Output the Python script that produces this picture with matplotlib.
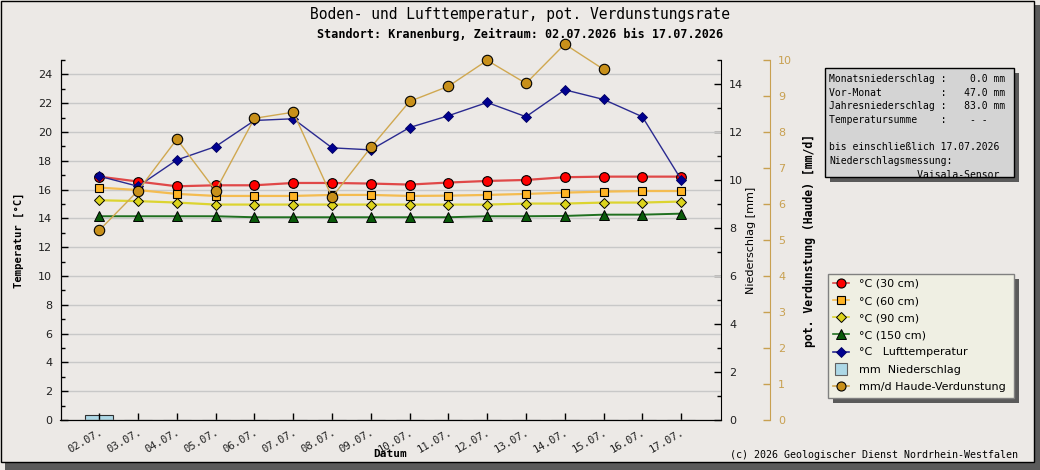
import numpy as np
import matplotlib
matplotlib.use("Agg")
import matplotlib.pyplot as plt
from matplotlib.patches import Rectangle
from matplotlib.lines import Line2D

# Daten
datum = ["02.07.", "03.07.", "04.07.", "05.07.", "06.07.", "07.07.", "08.07.", "09.07.",
         "10.07.", "11.07.", "12.07.", "13.07.", "14.07.", "15.07.", "16.07.", "17.07."]
t30 = [16.9, 16.56, 16.23, 16.3, 16.3, 16.46, 16.46, 16.42,
       16.35, 16.49, 16.6, 16.67, 16.86, 16.9, 16.9, 16.9]
t60 = [16.14, 15.97, 15.7, 15.56, 15.56, 15.56, 15.63, 15.63,
       15.56, 15.58, 15.63, 15.7, 15.79, 15.86, 15.9, 15.9]
t90 = [15.26, 15.2, 15.1, 14.96, 14.96, 14.96, 14.96, 14.96,
       14.96, 14.96, 14.96, 15.03, 15.03, 15.1, 15.1, 15.17]
t150 = [14.15, 14.15, 14.15, 14.15, 14.08, 14.08, 14.08, 14.08,
        14.08, 14.08, 14.15, 14.15, 14.17, 14.26, 14.26, 14.33]
luft = [16.93, 16.23, 18.06, 18.99, 20.8, 20.92, 18.9, 18.76,
        20.31, 21.13, 22.05, 21.06, 22.93, 22.26, 21.06, 16.7]
niederschlag = [0.2, 0, 0, 0, 0, 0, 0, 0, 0, 0, 0, 0, 0, 0, 0, 0]
haude = [5.27, 6.37, 7.8, 6.37, 8.38, 8.55, 6.19, 7.57,
         8.85, 9.27, 9.99, 9.35, 10.44, 9.74, np.nan, np.nan]

info_zeilen = ["Monatsniederschlag :    0.0 mm",
               "Vor-Monat          :   47.0 mm",
               "Jahresniederschlag :   83.0 mm",
               "Temperatursumme    :    - -",
               "",
               "bis einschließlich 17.07.2026",
               "Niederschlagsmessung:",
               "               Vaisala-Sensor"]
legend_labels = ["°C (30 cm)", "°C (60 cm)", "°C (90 cm)", "°C (150 cm)",
                 "°C   Lufttemperatur", "mm  Niederschlag", "mm/d Haude-Verdunstung"]

MONO = "DejaVu Sans Mono"
BG = "#ece9e6"
GOLD = "#c8a050"
W, H = 1040, 470

fig = plt.figure(figsize=(W / 100, H / 100), dpi=100, facecolor=BG)

def px(x0, y0, w, h):
    # Pixelkoordinaten (oben links) -> Figurenbruch
    return (x0 / W, 1 - (y0 + h) / H, w / W, h / H)

# Rahmen mit Schatten
fig.patches.append(Rectangle((1034 / W, 0), 6 / W, 1 - 5 / H, transform=fig.transFigure,
                             facecolor="#5a5a5a", edgecolor="none", zorder=0))
fig.patches.append(Rectangle((5 / W, 0), 1, 7 / H, transform=fig.transFigure,
                             facecolor="#5a5a5a", edgecolor="none", zorder=0))
fig.patches.append(Rectangle((0.5 / W, 8 / H), 1033 / W, 1 - 8.5 / H, transform=fig.transFigure,
                             facecolor="none", edgecolor="black", lw=1, zorder=1))

x = np.arange(len(datum))

ax = fig.add_axes(px(60.5, 60, 660.2, 360))
ax2 = ax.twinx()
ax3 = ax.twinx()
ax2.set_zorder(0)
ax.set_zorder(1)
ax3.set_zorder(2)
ax.patch.set_visible(False)
ax2.patch.set_facecolor("white")
ax3.patch.set_visible(False)

# Temperaturen
ax.plot(x, t30, color="#e04848", lw=1.6, marker="o", ms=7, mfc="#ff0000", mec="black", mew=0.8)
ax.plot(x, t60, color="#f4bc50", lw=1.6, marker="s", ms=6, mfc="#ffb424", mec="black", mew=0.8)
ax.plot(x, t90, color="#dcd430", lw=1.6, marker="D", ms=5.5, mfc="#dcd41c", mec="black", mew=0.7)
ax.plot(x, t150, color="#207020", lw=1.4, marker="^", ms=7, mfc="#0a5a0a", mec="black", mew=0.7)
ax.plot(x, luft, color="#2a2a90", lw=1.0, marker="D", ms=5.5, mfc="#000090", mec="#000060", mew=0.6)

ax.set_xlim(-1.0, 16.02)
ax.set_ylim(0, 25)
ax.set_yticks(np.arange(0, 25, 2))
ax.set_yticks(np.arange(0, 26, 1), minor=True)
ax.yaxis.grid(True, which="major", color="#c8c8c8", lw=1)
ax.set_axisbelow(True)
ax.set_xticks(x)
ax.set_xticklabels(datum, rotation=30, ha="right", rotation_mode="anchor",
                   family=MONO, fontsize=7.6, color="#202020")
ax.tick_params(axis="x", direction="in", length=5, width=1, pad=5, bottom=True)
ax.tick_params(axis="y", which="major", direction="in", length=5, width=1, pad=6,
               labelsize=8, labelcolor="#202020")
ax.tick_params(axis="y", which="minor", direction="in", length=3, width=1)
ax.spines["top"].set_visible(False)
ax.spines["right"].set_visible(False)
ax.set_ylabel("Temperatur [°C]", family=MONO, fontweight="bold", fontsize=7.6, labelpad=10)
ax.set_xlabel("Datum", family=MONO, fontweight="bold", fontsize=8, labelpad=-4)

# Niederschlag
ax2.bar(x, niederschlag, width=0.72, color="#add8e6", edgecolor="#303030", lw=0.8)
ax2.set_ylim(0, 15)
ax2.set_yticks(np.arange(0, 15, 2))
ax2.set_yticks(np.arange(0, 16, 1), minor=True)
ax2.tick_params(axis="y", which="major", direction="in", length=5, width=1, pad=6,
                labelsize=8, labelcolor="#202020")
ax2.tick_params(axis="y", which="minor", direction="in", length=3, width=1)
ax2.spines["top"].set_visible(False)
ax2.set_ylabel("Niederschlag [mm]", fontsize=8, labelpad=2)

# Haude-Verdunstung
ax3.plot(x, haude, color="#d0a850", lw=1.0, marker="o", ms=7.5, mfc="#c8901a",
         mec="black", mew=0.8, clip_on=False)
ax3.set_ylim(0, 10)
ax3.set_yticks(np.arange(0, 11, 1))
ax3.spines["right"].set_position(("axes", 1.0746))
for s in ["top", "bottom", "left"]:
    ax3.spines[s].set_visible(False)
ax3.spines["right"].set_color(GOLD)
ax3.tick_params(axis="y", direction="in", length=5, width=1, color=GOLD, pad=6,
                labelsize=8, labelcolor=GOLD)
ax3.set_ylabel("pot. Verdunstung (Haude) [mm/d]", family=MONO, fontweight="bold",
               fontsize=8.3, labelpad=8)

# Titel
fig.text(520 / W, 1 - 15 / H, "Boden- und Lufttemperatur, pot. Verdunstungsrate",
         family=MONO, fontsize=10.5, ha="center", va="center")
fig.text(520 / W, 1 - 34 / H, "Standort: Kranenburg, Zeitraum: 02.07.2026 bis 17.07.2026",
         family=MONO, fontsize=8.5, fontweight="bold", ha="center", va="center")

# Infobox
fig.patches.append(Rectangle(px(830, 73, 189, 109)[:2], 189 / W, 109 / H,
                             transform=fig.transFigure, facecolor="#5a5a5a", edgecolor="none"))
fig.patches.append(Rectangle(px(825, 68, 189, 109)[:2], 189 / W, 109 / H,
                             transform=fig.transFigure, facecolor="#d4d4d4",
                             edgecolor="black", lw=1))
for i, zeile in enumerate(info_zeilen):
    fig.text(829 / W, 1 - (79 + i * 13.7) / H, zeile, family=MONO, fontsize=7.0,
             ha="left", va="center")

# Legende
fig.patches.append(Rectangle(px(833, 279, 186, 124)[:2], 186 / W, 124 / H,
                             transform=fig.transFigure, facecolor="#5a5a5a", edgecolor="none"))
fig.patches.append(Rectangle(px(828, 274, 186, 124)[:2], 186 / W, 124 / H,
                             transform=fig.transFigure, facecolor="#efefe3",
                             edgecolor="#808080", lw=1))
handles = [
    Line2D([], [], color="#e04848", lw=1.2, marker="o", ms=6.5, mfc="#ff0000", mec="black", mew=0.8),
    Line2D([], [], color="#f4bc50", lw=1.2, marker="s", ms=5.5, mfc="#ffb424", mec="black", mew=0.8),
    Line2D([], [], color="#dcd430", lw=1.2, marker="D", ms=5, mfc="#dcd41c", mec="black", mew=0.7),
    Line2D([], [], color="#207020", lw=1.2, marker="^", ms=6.5, mfc="#0a5a0a", mec="black", mew=0.7),
    Line2D([], [], color="#2a2a90", lw=1.2, marker="D", ms=5, mfc="#000090", mec="#000060", mew=0.6),
    Line2D([], [], ls="none", marker="s", ms=8, mfc="#add8e6", mec="#606060", mew=0.8),
    Line2D([], [], color="#d0a850", lw=1.2, marker="o", ms=6.5, mfc="#c8901a", mec="black", mew=0.8),
]
fig.legend(handles, legend_labels, loc="upper left", bbox_to_anchor=(833 / W, 1 - 279 / H),
           frameon=False, fontsize=8, borderpad=0, borderaxespad=0, labelspacing=0.64,
           handlelength=1.45, handletextpad=0.9)

fig.text(1018 / W, 1 - 455 / H, "(c) 2026 Geologischer Dienst Nordrhein-Westfalen",
         family=MONO, fontsize=7.2, ha="right", va="center")

fig.savefig("out.png", dpi=100, facecolor=BG)
